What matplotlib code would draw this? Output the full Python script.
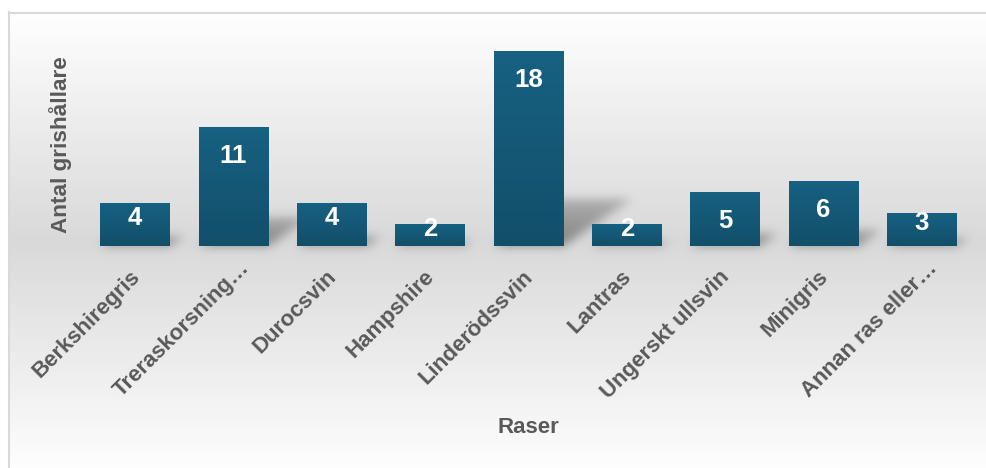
import numpy as np
import matplotlib
matplotlib.use("Agg")
import matplotlib.pyplot as plt
from matplotlib.lines import Line2D
from matplotlib.transforms import ScaledTranslation

categories = ["Berkshiregris", "Treraskorsning…", "Durocsvin", "Hampshire",
              "Linderödssvin", "Lantras", "Ungerskt ullsvin", "Minigris",
              "Annan ras eller…"]
values = [4, 11, 4, 2, 18, 2, 5, 6, 3]
y_title = "Antal grishållare"
x_title = "Raser"

plt.rcParams['font.family'] = ['Liberation Sans', 'DejaVu Sans']

W, H = 986, 468
fig = plt.figure(figsize=(W / 100, H / 100), dpi=100)
fig.patch.set_facecolor('white')

bg_ax = fig.add_axes([0, 0, 1, 1], zorder=0)
bg_ax.set_axis_off()

ax = fig.add_axes([86 / W, (H - 246) / H, 885 / W, 216.7 / H], zorder=1)
ax.patch.set_alpha(0)
n = len(values)
ax.set_xlim(-0.5, n - 0.5)
ax.set_ylim(0, 20)

# ---------- background gradient (chart area) ----------
rows = np.arange(H)
top_r, mid_r = 12, 240
g = np.where(rows <= mid_r,
             1.0 - (1.0 - 0.851) * np.clip((rows - top_r) / (mid_r - top_r), 0, 1),
             0.851 + (0.995 - 0.851) * np.clip((rows - mid_r) / (H - mid_r), 0, 1))
img = np.repeat(g[:, None], W, axis=1)
img[:top_r, :] = 1.0
img[:, :8] = 1.0

# ---------- perspective shadows ----------
bar_w = 0.71
mask = np.zeros((H, W))
k_sk, s_sk = 0.35, 0.24
for i, v in enumerate(values):
    (x0, yb) = ax.transData.transform((i - bar_w / 2, 0))
    (x1, yt) = ax.transData.transform((i + bar_w / 2, v))
    hpx = yt - yb
    for r in range(H):
        ydisp = H - r - 0.5
        t = (ydisp - yb) / s_sk
        if 0 <= t <= hpx:
            a = int(round(x0 + k_sk * t))
            b = int(round(x1 + k_sk * t))
            seg = slice(max(a, 0), min(b, W))
            mask[r, seg] = np.maximum(mask[r, seg], 1.0 - 0.45 * t / hpx)


def gblur(a, sigma):
    rad = int(3 * sigma)
    xk = np.arange(-rad, rad + 1)
    kern = np.exp(-xk ** 2 / (2 * sigma ** 2))
    kern /= kern.sum()
    a = np.apply_along_axis(lambda m: np.convolve(m, kern, mode='same'), 0, a)
    a = np.apply_along_axis(lambda m: np.convolve(m, kern, mode='same'), 1, a)
    return a


mask = gblur(mask, 5.0)
img = img * (1 - 0.40 * mask)
rgb = np.dstack([img, img, img])
bg_ax.imshow(rgb, extent=[0, W, 0, H], origin='upper', aspect='auto',
             interpolation='nearest')
bg_ax.set_xlim(0, W)
bg_ax.set_ylim(0, H)

# chart border
fig.add_artist(Line2D([8.5 / W, 8.5 / W], [0, (H - 12) / H], color='#d9d9d9',
                      lw=1.5, transform=fig.transFigure))
fig.add_artist(Line2D([8.5 / W, 1], [(H - 12.5) / H, (H - 12.5) / H],
                      color='#d9d9d9', lw=1.5, transform=fig.transFigure))

# ---------- bars with gradient ----------
bars = ax.bar(range(n), values, width=bar_w, color='#155a78', zorder=2)
top_c = np.array([23, 97, 130]) / 255
bot_c = np.array([18, 79, 106]) / 255
grad = np.linspace(0, 1, 64)[:, None, None]
grad_img = top_c[None, None, :] * (1 - grad) + bot_c[None, None, :] * grad
for p in bars:
    x, w, h = p.get_x(), p.get_width(), p.get_height()
    im = ax.imshow(grad_img, extent=[x, x + w, 0, h], origin='upper',
                   aspect='auto', zorder=3, interpolation='bilinear')
    im.set_clip_path(p)
ax.set_xlim(-0.5, n - 0.5)
ax.set_ylim(0, 20)

# value labels
for i, v in enumerate(values):
    ly = v - 2.65 if v >= 5 else v / 2 + 0.6
    ax.text(i, ly, str(v), ha='center', va='center', color='white',
            fontsize=18.5, fontweight='bold', zorder=4)

# ---------- axes styling ----------
for sp in ax.spines.values():
    sp.set_visible(False)
ax.set_yticks([])
ax.set_xticks(range(n))
ax.set_xticklabels(categories, rotation=45, ha='right', rotation_mode='anchor',
                   fontsize=16, fontweight='bold', color='#595959')
ax.tick_params(axis='x', length=0, pad=14)
for lab in ax.get_xticklabels():
    dx, dy = -6, -1
    if lab.get_text().endswith('…'):
        dx, dy = 5, 8
    lab.set_transform(lab.get_transform() +
                      ScaledTranslation(dx / 100, dy / 100, fig.dpi_scale_trans))

ax.set_ylabel(y_title, fontsize=16.2, fontweight='bold', color='#595959')
ax.yaxis.set_label_coords(-0.016, 0.468)
ax.set_xlabel(x_title, fontsize=16, fontweight='bold', color='#595959')
ax.xaxis.set_label_coords(0.5, -0.79)

fig.savefig('out.png', dpi=100)
